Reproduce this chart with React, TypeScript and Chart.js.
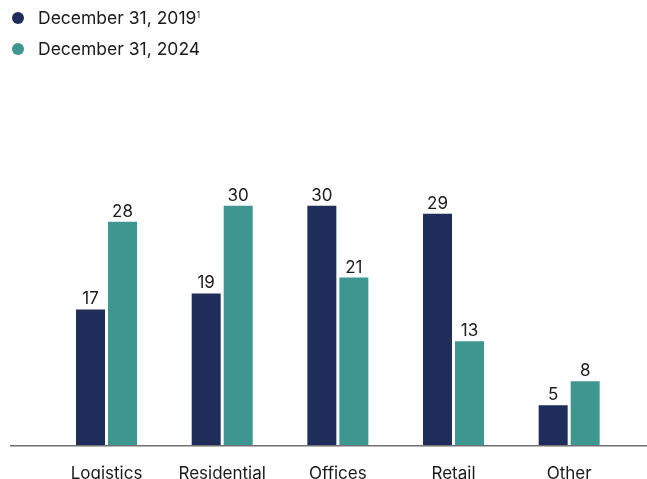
import React, { useEffect, useRef } from "react";
import { Chart, registerables } from "chart.js";

Chart.register(...registerables);

const categories = ["Logistics", "Residential", "Offices", "Retail", "Other"];
const values2019 = [17, 19, 30, 29, 5];
const values2024 = [28, 30, 21, 13, 8];
const seriesLabels = ["December 31, 2019", "December 31, 2024"];
const NAVY = "#1F2D5A";
const TEAL = "#3E9691";
const FONT = "Inter, 'Liberation Sans', Arial, sans-serif";
const TEXT = "#1a1a1a";

const valueLabels = {
  id: "valueLabels",
  afterDatasetsDraw(chart: any) {
    const ctx = chart.ctx;
    ctx.save();
    ctx.font = `17px ${FONT}`;
    ctx.fillStyle = TEXT;
    ctx.textAlign = "center";
    ctx.textBaseline = "alphabetic";
    chart.data.datasets.forEach((ds: any, i: number) => {
      const meta = chart.getDatasetMeta(i);
      meta.data.forEach((bar: any, j: number) => {
        ctx.fillText(String(ds.data[j]), bar.x, bar.y - 5);
      });
    });
    ctx.restore();
  },
};

const baseline = {
  id: "baseline",
  afterDatasetsDraw(chart: any) {
    const ctx = chart.ctx;
    const y = chart.scales.y.getPixelForValue(0);
    ctx.save();
    ctx.strokeStyle = "#707070";
    ctx.lineWidth = 1.5;
    ctx.beginPath();
    ctx.moveTo(10, y + 0.75);
    ctx.lineTo(chart.width, y + 0.75);
    ctx.stroke();
    ctx.restore();
  },
};

export default function App() {
  const ref = useRef<HTMLCanvasElement>(null);
  useEffect(() => {
    if (!ref.current) return;
    const chart = new Chart(ref.current, {
      type: "bar",
      data: {
        labels: categories,
        datasets: [
          { label: seriesLabels[0], data: values2019, backgroundColor: NAVY },
          { label: seriesLabels[1], data: values2024, backgroundColor: TEAL },
        ],
      },
      options: {
        responsive: false,
        animation: false,
        layout: { padding: { top: 126, right: 20, left: 0, bottom: 0 } },
        datasets: {
          bar: { categoryPercentage: 0.5534, barPercentage: 0.906 },
        },
        plugins: {
          legend: { display: false },
          tooltip: { enabled: false },
        },
        scales: {
          x: {
            grid: { display: false, drawTicks: false },
            border: { display: false },
            ticks: {
              color: TEXT,
              font: { family: FONT, size: 17 },
              padding: 19,
              maxRotation: 0,
            },
            afterFit(scale: any) {
              scale.height = 34;
            },
          },
          y: {
            min: 0,
            max: 40,
            grid: { display: false, drawTicks: false },
            border: { display: false },
            ticks: { display: false },
            afterFit(scale: any) {
              scale.width = 48.7;
            },
          },
        },
      },
      plugins: [valueLabels, baseline],
    });
    return () => chart.destroy();
  }, []);

  const legendRow = (color: string, top: number, content: React.ReactNode) => (
    <div style={{ position: "absolute", left: 0, top, height: 20, width: 300 }}>
      <div
        style={{
          position: "absolute",
          left: 12,
          top: 4,
          width: 12,
          height: 12,
          borderRadius: "50%",
          background: color,
        }}
      />
      <div
        style={{
          position: "absolute",
          left: 38,
          top: 0,
          lineHeight: "20px",
          fontSize: 17.5,
          fontFamily: FONT,
          color: TEXT,
          whiteSpace: "nowrap",
        }}
      >
        {content}
      </div>
    </div>
  );

  return (
    <div style={{ position: "absolute", left: 0, top: 0, width: 647, height: 479, background: "#fff" }}>
      <canvas ref={ref} width={647} height={479} style={{ position: "absolute", left: 0, top: 0 }} />
      {legendRow(
        NAVY,
        8,
        <span>
          {seriesLabels[0]}
          <span style={{ fontSize: 9, position: "relative", top: -6 }}>1</span>
        </span>
      )}
      {legendRow(TEAL, 39, <span>{seriesLabels[1]}</span>)}
    </div>
  );
}
